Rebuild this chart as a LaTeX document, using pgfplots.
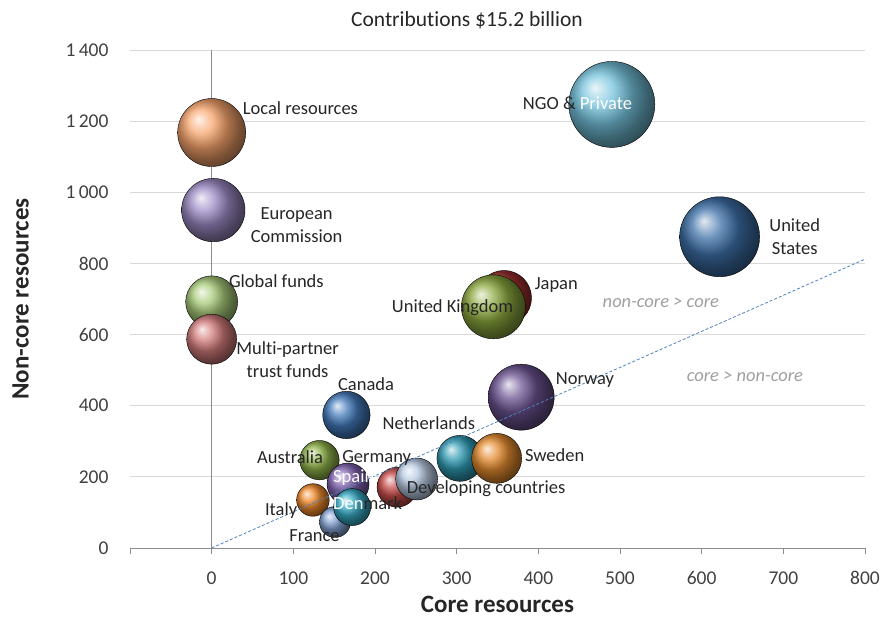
\documentclass[border=0pt]{standalone}
\usepackage{pgfplots}
\pgfplotsset{compat=1.18}
\usepackage{fontspec}
\setmainfont{Carlito}[Ligatures=NoCommon]
\definecolor{lab}{HTML}{262626}
\definecolor{ticktext}{HTML}{404040}
\definecolor{axisgray}{HTML}{8C8C8C}
\definecolor{gridgray}{HTML}{D9D9D9}
\definecolor{refline}{HTML}{4F81BD}
\definecolor{cLocal}{HTML}{F7A46C}
\definecolor{cEC}{HTML}{9C8AC4}
\definecolor{cGlobal}{HTML}{A9CB7A}
\definecolor{cMPTF}{HTML}{D27A7A}
\definecolor{cNGO}{HTML}{74C2DC}
\definecolor{cUS}{HTML}{3D70A8}
\definecolor{cJapan}{HTML}{A02E2E}
\definecolor{cUK}{HTML}{8CA83E}
\definecolor{cNorway}{HTML}{6A5290}
\definecolor{cCanada}{HTML}{4279BA}
\definecolor{cNeth}{HTML}{2E9AB2}
\definecolor{cSweden}{HTML}{E38A2E}
\definecolor{cDev}{HTML}{B8CAE2}
\definecolor{cGermany}{HTML}{C64B48}
\definecolor{cAustralia}{HTML}{8DB048}
\definecolor{cSpain}{HTML}{8062B0}
\definecolor{cDenmark}{HTML}{36AAC4}
\definecolor{cItaly}{HTML}{F08A2C}
\definecolor{cFrance}{HTML}{809FCE}
\newcommand\bub[4]{\addplot[only marks, mark=ball, mark size=#3pt, mark options={ball color=#4}, ball color=#4] coordinates {(#1,#2)};}
\tikzset{lbl/.style={font=\fontsize{18.5}{23}\selectfont, text=lab, inner sep=0pt},
  note/.style={font=\itshape\fontsize{18.5}{23}\selectfont, text=gray!75, inner sep=0pt}}
\pgfplotsset{base/.style={scale only axis, width=735pt, height=498pt,
  xmin=-100, xmax=800, ymin=0, ymax=1400, clip=false}}
\begin{document}
\begin{tikzpicture}
\begin{axis}[
  base,
  axis x line=bottom, axis y line=left,
  x axis line style={-, draw=axisgray, line width=0.9pt},
  y axis line style={draw=none},
  xtick={-100,0,100,200,300,400,500,600,700,800},
  xticklabels={,0,100,200,300,400,500,600,700,800},
  ytick={0,200,400,600,800,1000,1200,1400},
  ymajorgrids, grid style={draw=gridgray, line width=0.9pt},
  xtick style={draw=axisgray, line width=0.9pt},
  ytick style={draw=none},
  tick align=outside, major tick length=6pt,
  /pgf/number format/assume math mode=true,
  /pgf/number format/1000 sep={\,},
  ticklabel style={font=\fontsize{19.5}{22}\selectfont, text=ticktext},
  xticklabel style={yshift=-14pt},
  yticklabel style={xshift=-12pt},
  xlabel={Core resources}, ylabel={Non-core resources},
  label style={font=\bfseries\fontsize{25}{30}\selectfont, text=lab},
  xlabel style={yshift=-4pt},
  ylabel style={yshift=30pt},
]
\addplot[axisgray, line width=0.9pt, no marks] coordinates {(0,0) (0,1400)};
\bub{0}{692}{26}{cGlobal}
\bub{0}{587}{25}{cMPTF}
\bub{0}{1168}{34}{cLocal}
\bub{2}{950}{31.7}{cEC}
\bub{490}{1247}{43}{cNGO}
\bub{622}{875}{40}{cUS}
\bub{358}{703}{27.5}{cJapan}
\bub{345}{678}{32}{cUK}
\bub{379}{424}{33}{cNorway}
\bub{165}{374}{23.7}{cCanada}
\bub{304}{252}{23}{cNeth}
\bub{349}{252}{25}{cSweden}
\bub{227}{171}{20}{cGermany}
\bub{251}{194}{21}{cDev}
\bub{132}{247}{19.7}{cAustralia}
\bub{124}{135}{16.3}{cItaly}
\bub{167}{180}{21}{cSpain}
\bub{151}{73}{15.5}{cFrance}
\bub{172}{115}{18.5}{cDenmark}
\end{axis}
\begin{axis}[base, hide axis]
\addplot[refline, densely dashed, line width=0.8pt, no marks] coordinates {(0,0) (800,812)};
\node[lbl, anchor=west] at (axis cs:38,1237) {Local resources};
\node[lbl, align=center] at (axis cs:104,908) {European\\Commission};
\node[lbl, anchor=west] at (axis cs:21,751) {Global funds};
\node[lbl, align=center] at (axis cs:93,530) {Multi-partner\\trust funds};
\node[lbl] at (axis cs:189,461) {Canada};
\node[lbl] at (axis cs:266,351) {Netherlands};
\node[lbl] at (axis cs:96,256) {Australia};
\node[lbl] at (axis cs:202,253) {Germany};
\node[lbl, text=white] at (axis cs:174,197) {Spain};
\node[lbl] at (axis cs:336,166) {Developing countries};
\node[lbl] at (axis cs:191,126) {{\color{white}Den}mark};
\node[lbl] at (axis cs:420,261) {Sweden};
\node[lbl] at (axis cs:457,472) {Norway};
\node[lbl] at (axis cs:422,739) {Japan};
\node[lbl] at (axis cs:295,675) {United Kingdom};
\node[lbl] at (axis cs:448,1251) {NGO \& {\color{white}Private}};
\node[lbl, align=center] at (axis cs:714,875) {United\\States};
\node[lbl] at (axis cs:85,104) {Italy};
\node[lbl] at (axis cs:126,34) {France};
\node[note] at (axis cs:550,689) {non-core > core};
\node[note] at (axis cs:653,481) {core > non-core};
\node[font=\fontsize{21.5}{24}\selectfont, text=lab] at (axis description cs:0.4585,1.060) {Contributions \$15.2 billion};
\end{axis}
\pgfresetboundingbox
\path ([shift={(-130pt,-71pt)}]current axis.south west) rectangle ([shift={(22pt,50pt)}]current axis.north east);
\end{tikzpicture}
\end{document}
